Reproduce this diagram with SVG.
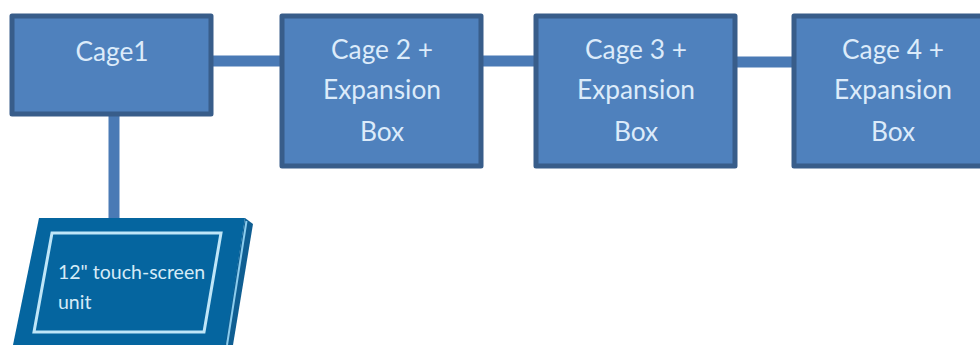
<svg xmlns="http://www.w3.org/2000/svg" width="980" height="345" viewBox="0 0 980 345">
<defs><style>
.box{fill:#4f81bd;stroke:#385d8a;stroke-width:5;stroke-linejoin:round}
.lbl{font-family:Lato,"Open Sans",sans-serif;font-size:26.3px;fill:#dcebfa;text-anchor:middle}
.conn{stroke:#4a7ab5;stroke-width:11;fill:none}
.small{font-family:Lato,"Open Sans",sans-serif;font-size:19.5px;fill:#d5ebf7}
</style></defs>
<rect width="980" height="345" fill="#fff"/>
<g id="connectors">
<line class="conn" x1="212" y1="61" x2="282" y2="61"/>
<line class="conn" x1="482" y1="61" x2="536" y2="61"/>
<line class="conn" x1="736" y1="62" x2="794" y2="62"/>
<line class="conn" x1="114" y1="116" x2="114" y2="222"/>
</g>
<g id="cage1"><rect class="box" x="12" y="16" width="199" height="98"/>
<text class="lbl" x="112" y="60.5">Cage1</text></g>
<g id="cage2"><rect class="box" x="282" y="16" width="199" height="150"/>
<text class="lbl" x="382" y="58.5">Cage 2 +</text><text class="lbl" x="382" y="99">Expansion</text><text class="lbl" x="382" y="141">Box</text></g>
<g id="cage3"><rect class="box" x="536" y="16" width="199" height="150"/>
<text class="lbl" x="636" y="58.5">Cage 3 +</text><text class="lbl" x="636" y="99">Expansion</text><text class="lbl" x="636" y="141">Box</text></g>
<g id="cage4"><rect class="box" x="794" y="16" width="199" height="150"/>
<text class="lbl" x="893" y="58.5">Cage 4 +</text><text class="lbl" x="893" y="99">Expansion</text><text class="lbl" x="893" y="141">Box</text></g>
<g id="touchscreen">
<polygon points="245,218 253,224 233,345 224,345" fill="#0f5e92"/>
<polygon points="39,218 245,218 225,345 13,345" fill="#05659f"/>
<line x1="246.5" y1="221" x2="227" y2="345" stroke="#8ccdee" stroke-width="2"/>
<polygon points="52,233 221,233 204,332 34,332" fill="none" stroke="#bfe6f8" stroke-width="3"/>
<text class="small" x="58" y="279">12" touch-screen</text>
<text class="small" x="58" y="309">unit</text>
</g>
</svg>
